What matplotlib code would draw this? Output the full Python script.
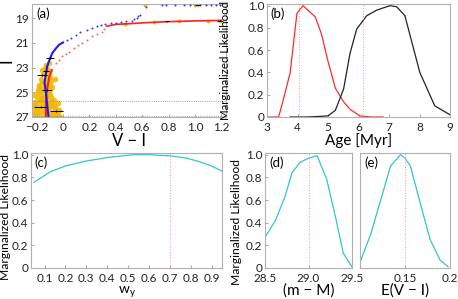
import matplotlib
matplotlib.use("Agg")
import matplotlib.pyplot as plt

plt.rcParams['font.family'] = ['Lato', 'DejaVu Sans']

# ---------------- data ----------------
# panel (a) observed stars (V-I, I)
cloud_vi = [-0.14, -0.12, -0.11, -0.15, -0.13, -0.10, -0.17, -0.12, -0.09, -0.16,
            -0.18, -0.14, -0.11, -0.08, -0.19, -0.15, -0.12, -0.10, -0.17, -0.13,
            -0.20, -0.16, -0.13, -0.09, -0.07, -0.21, -0.18, -0.15, -0.12, -0.10,
            -0.08, -0.22, -0.19, -0.16, -0.13, -0.11, -0.06, -0.04, -0.22, -0.20,
            -0.17, -0.14, -0.12, -0.09, -0.07, -0.05, -0.03, -0.23, -0.21, -0.18,
            -0.15, -0.13, -0.10, -0.08, -0.05, -0.02, -0.22, -0.19, -0.16, -0.14,
            -0.11, -0.09, -0.06, -0.03, -0.21, -0.17, -0.15, -0.12, -0.07, -0.04,
            -0.20, -0.18, -0.13, -0.10, -0.06, -0.13, -0.11, -0.16]
cloud_i = [23.0, 23.1, 23.3, 23.5, 23.6, 23.8, 23.9, 24.0, 24.1, 24.2,
           24.4, 24.5, 24.6, 24.6, 24.8, 24.9, 25.0, 25.1, 25.2, 25.3,
           25.4, 25.5, 25.5, 25.4, 25.6, 25.8, 25.8, 25.9, 25.9, 26.0,
           26.1, 26.1, 26.2, 26.2, 26.3, 26.3, 26.4, 26.5, 26.5, 26.6,
           26.6, 26.6, 26.7, 26.7, 26.6, 26.8, 26.9, 26.8, 26.9, 26.9,
           27.0, 26.9, 26.9, 27.0, 26.7, 27.0, 25.2, 25.0, 24.7, 24.3,
           24.9, 25.7, 26.2, 26.4, 26.0, 25.6, 24.2, 23.4, 26.0, 25.9,
           26.4, 24.6, 25.7, 24.4, 23.9, 22.8, 22.6, 23.2]
bright_vi = [0.47, 0.69, 0.88, 1.10, 1.19, 0.62, 1.00]
bright_i = [19.45, 19.3, 19.25, 19.2, 19.2, 17.95, 17.95]

err_vi = [-0.10, -0.13, -0.16, -0.12, -0.17, -0.05, 0.79, 1.02, 1.19]
err_i = [22.2, 23.3, 23.6, 24.8, 26.2, 26.5, 19.25, 17.95, 19.2]
err_x = [0.03, 0.025, 0.035, 0.04, 0.05, 0.05, 0.015, 0.02, 0.02]
err_y = [0.08, 0.08, 0.08, 0.1, 0.1, 0.1, 0.05, 0.05, 0.05]

blue_line_vi = [-0.11, -0.12, -0.13, -0.14, -0.13, -0.12, -0.10, -0.08, -0.05, -0.03, 0.00]
blue_line_i = [27.0, 26.0, 25.05, 24.2, 23.5, 22.9, 22.3, 21.8, 21.4, 21.15, 20.97]
blue_dot_vi = [0.03, 0.06, 0.095, 0.13, 0.18, 0.22, 0.26, 0.29, 0.32, 0.36, 0.40, 0.44,
               0.48, 0.52, 0.54, 0.56, 0.57, 0.58, 0.63, 0.75, 0.78, 0.85, 0.92, 0.96,
               1.04, 1.08, 1.12, 1.16, 1.19]
blue_dot_i = [20.8, 20.6, 20.35, 20.15, 19.95, 19.8, 19.62, 19.55, 19.46, 19.4, 19.35, 19.3,
              19.22, 19.19, 19.1, 18.95, 18.85, 18.73, 18.1, 17.95, 17.95, 17.95, 17.95, 17.95,
              17.95, 17.95, 17.95, 17.95, 17.95]
red_line_vi = [-0.13, -0.13, -0.125, -0.115, -0.105, -0.095, -0.085]
red_line_i = [27.0, 26.0, 25.05, 24.4, 23.8, 23.5, 23.2]
red_dot_vi = [-0.055, -0.03, -0.005, 0.02, 0.045, 0.08, 0.11, 0.146, 0.18, 0.22, 0.26, 0.296, 0.31]
red_dot_i = [22.6, 22.35, 22.1, 21.9, 21.7, 21.45, 21.2, 21.0, 20.75, 20.45, 20.25, 20.08, 19.9]
red_rgb_vi = [0.33, 0.40, 0.50, 0.60, 0.70, 0.80, 0.90, 1.00, 1.10, 1.20]
red_rgb_i = [19.65, 19.5, 19.45, 19.38, 19.33, 19.28, 19.25, 19.22, 19.2, 19.18]

# panel (b)
age_red = [3.0, 3.38, 3.54, 3.76, 3.98, 4.18, 4.58, 4.78, 5.0, 5.24, 5.5, 5.72, 6.04, 6.4, 6.8]
lik_red = [0.0, 0.0, 0.16, 0.40, 0.93, 1.0, 0.90, 0.75, 0.50, 0.26, 0.14, 0.07, 0.01, 0.0, 0.0]
age_blk = [3.76, 4.3, 4.7, 5.0, 5.24, 5.51, 5.72, 5.94, 6.27, 6.6, 7.03, 7.25, 7.52, 8.01, 8.5, 9.0]
lik_blk = [0.0, 0.0, 0.005, 0.01, 0.06, 0.25, 0.57, 0.79, 0.91, 0.96, 1.0, 0.99, 0.91, 0.40, 0.10, 0.02]
age_marks = [4.05, 6.15]

# panel (c)
wy = [0.048, 0.128, 0.2, 0.287, 0.4, 0.526, 0.6, 0.7, 0.78, 0.84, 0.9, 0.95]
lik_wy = [0.755, 0.85, 0.90, 0.94, 0.975, 1.0, 1.0, 0.99, 0.97, 0.94, 0.90, 0.855]
wy_mark = 0.7

# panel (d)
dm = [28.5, 28.62, 28.73, 28.81, 28.9, 29.0, 29.1, 29.21, 29.31, 29.4, 29.5]
lik_dm = [0.27, 0.42, 0.63, 0.84, 0.93, 0.97, 0.99, 0.78, 0.45, 0.13, 0.01]
dm_mark = 29.0

# panel (e)
ebv = [0.101, 0.112, 0.123, 0.134, 0.145, 0.15, 0.156, 0.167, 0.178, 0.189, 0.198]
lik_ebv = [0.07, 0.30, 0.60, 0.90, 1.0, 0.97, 0.90, 0.57, 0.25, 0.07, 0.01]
ebv_mark = 0.15

# ---------------- plotting ----------------
fig = plt.figure(figsize=(4.58, 2.99), dpi=100)

def style(ax):
    for s in ax.spines.values():
        s.set_color('#b0b0b0')
        s.set_linewidth(0.8)
    ax.tick_params(direction='in', length=2, width=0.6, color='#999999',
                   labelsize=8.5, pad=2, labelcolor='#222222')
    ax.tick_params(axis='x', pad=3.5)

cyan = '#33c6c6'
pink = '#ff9090'
ylab_kw = dict(fontsize=8.7)
lik_ticks = [0, 0.2, 0.4, 0.6, 0.8, 1.0]
lik_labels = ['0', '0.2', '0.4', '0.6', '0.8', '1.0']

# (a)
axa = fig.add_axes([0.0699, 0.6087, 0.4236, 0.378])
style(axa)
axa.scatter(cloud_vi, cloud_i, s=16, color='#f2b600', alpha=0.85, lw=0, zorder=1)
axa.scatter(bright_vi, bright_i, s=8, color='#f2b600', lw=0, zorder=1)
axa.errorbar(err_vi, err_i, xerr=err_x, yerr=err_y, fmt='none', ecolor='black',
             elinewidth=0.7, zorder=4)
axa.plot(blue_line_vi, blue_line_i, color='#1a1aff', lw=1.5, zorder=3)
axa.scatter(blue_dot_vi, blue_dot_i, s=2, color='#3030ff', lw=0, zorder=3)
axa.plot(red_line_vi, red_line_i, color='#ff2020', lw=1.5, zorder=2)
axa.scatter(red_dot_vi, red_dot_i, s=2, color='#ff6060', lw=0, zorder=2)
axa.plot(red_rgb_vi, red_rgb_i, color='#ff2020', lw=1.2, zorder=2)
axa.axhline(25.7, color='#888888', ls=':', lw=0.6)
axa.axhline(26.95, color='#888888', ls=':', lw=0.6)
axa.set_xlim(-0.235, 1.235)
axa.set_ylim(27.0, 17.85)
axa.set_xticks([-0.2, 0, 0.2, 0.4, 0.6, 0.8, 1.0, 1.2])
axa.set_xticklabels(['−0.2', '0', '0.2', '0.4', '0.6', '0.8', '1.0', '1.2'])
axa.set_yticks([19, 21, 23, 25, 27])
axa.tick_params(axis='y', labelsize=8.5)
axa.set_xlabel('V − I', fontsize=12, labelpad=0)
axa.set_ylabel('I', fontsize=12)
axa.yaxis.set_label_coords(-0.09, 0.5)
axa.text(0.02, 0.97, '(a)', transform=axa.transAxes, fontsize=9.5, va='top')

# (b)
axb = fig.add_axes([0.583, 0.6087, 0.3996, 0.378])
style(axb)
axb.plot(age_red, lik_red, color='#ff2a2a', lw=0.9)
axb.plot(age_blk, lik_blk, color='#222222', lw=0.9)
for a in age_marks:
    axb.axvline(a, color=pink, ls=':', lw=0.7)
axb.set_xlim(3, 9)
axb.set_ylim(0, 1.015)
axb.set_xticks([3, 4, 5, 6, 7, 8, 9])
axb.set_yticks(lik_ticks)
axb.set_yticklabels(lik_labels)
axb.set_xlabel('Age [Myr]', fontsize=11, labelpad=0)
axb.set_ylabel('Marginalized Likelihood', fontsize=8.3)
axb.yaxis.set_label_coords(-0.195, 0.5)
axb.text(0.02, 0.97, '(b)', transform=axb.transAxes, fontsize=9.5, va='top')

# (c)
axc = fig.add_axes([0.0677, 0.1037, 0.417, 0.3846])
style(axc)
axc.plot(wy, lik_wy, color=cyan, lw=0.9)
axc.axvline(wy_mark, color=pink, ls=':', lw=0.7)
axc.set_xlim(0.035, 0.95)
axc.set_ylim(0, 1.015)
axc.set_xticks([0.1, 0.2, 0.3, 0.4, 0.5, 0.6, 0.7, 0.8, 0.9])
axc.set_yticks(lik_ticks)
axc.set_yticklabels(lik_labels)
axc.set_xlabel('w$_\\mathregular{y}$', fontsize=10, labelpad=0)
axc.set_ylabel('Marginalized Likelihood', **ylab_kw)
axc.yaxis.set_label_coords(-0.105, 0.44)
axc.text(0.02, 0.97, '(c)', transform=axc.transAxes, fontsize=9.5, va='top')

# (d)
axd = fig.add_axes([0.5786, 0.1037, 0.19, 0.3846])
style(axd)
axd.plot(dm, lik_dm, color=cyan, lw=0.9)
axd.axvline(dm_mark, color=pink, ls=':', lw=0.7)
axd.set_xlim(28.5, 29.5)
axd.set_ylim(0, 1.015)
axd.set_xticks([28.5, 29.0, 29.5])
axd.set_yticks(lik_ticks)
axd.set_yticklabels(lik_labels)
axd.set_xlabel('(m − M)', fontsize=11, labelpad=0)
axd.set_ylabel('Marginalized Likelihood', **ylab_kw)
axd.yaxis.set_label_coords(-0.27, 0.4)
axd.text(0.05, 0.97, '(d)', transform=axd.transAxes, fontsize=9.5, va='top')

# (e)
axe = fig.add_axes([0.786, 0.1037, 0.1965, 0.3846])
style(axe)
axe.plot(ebv, lik_ebv, color=cyan, lw=0.9)
axe.axvline(ebv_mark, color=pink, ls=':', lw=0.7)
axe.set_xlim(0.1, 0.2)
axe.set_ylim(0, 1.015)
axe.set_xticks([0.15, 0.2])
axe.set_xticklabels(['0.15', '0.2'])
axe.set_yticks([])
axe.set_xlabel('E(V − I)', fontsize=11, labelpad=0)
axe.text(0.05, 0.97, '(e)', transform=axe.transAxes, fontsize=9.5, va='top')

fig.savefig('out.png', dpi=100)
